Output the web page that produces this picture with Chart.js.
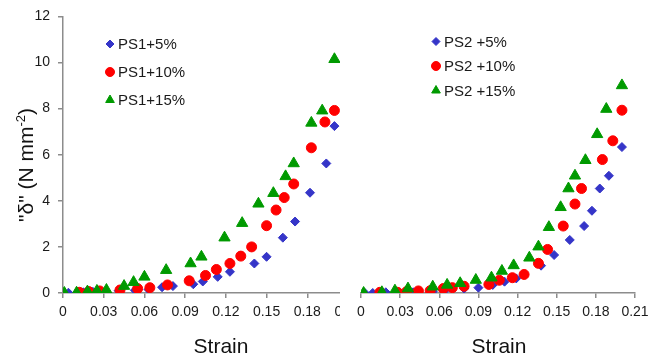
<!DOCTYPE html>
<html>
<head>
<meta charset="utf-8">
<script src="https://cdn.jsdelivr.net/npm/chart.js@4.4.0/dist/chart.umd.min.js"></script>
<style>
  body { margin: 0; background: #fff; font-family: "Liberation Sans", Arial, sans-serif; }
  #wrap { position: relative; width: 665px; height: 360px; overflow: hidden; background: #fff; }
  #leftBox { position: absolute; left: 0; top: 0; width: 340px; height: 360px; overflow: hidden; }
  #rightChart { position: absolute; left: 340px; top: 0; }
  .xtitle { position: absolute; top: 334px; width: 120px; text-align: center; font-size: 21px; color: #111; }
  #ytitle { position: absolute; left: 26px; top: 165px; transform: translate(-50%, -50%) rotate(-90deg); white-space: nowrap; font-size: 21px; color: #111; }
  #ytitle sup { font-size: 13px; vertical-align: 8px; line-height: 0; }
</style>
</head>
<body>
<div id="wrap">
  <div id="leftBox"><canvas id="leftChart" width="380" height="360"></canvas></div>
  <canvas id="rightChart" width="325" height="360"></canvas>
  <div id="ytitle">"δ" (N mm<sup>-2</sup>)</div>
  <div class="xtitle" style="left:161px">Strain</div>
  <div class="xtitle" style="left:439px">Strain</div>
</div>
<script>
// strain (x) and stress (y)
const ps1_5Strain = [0.004, 0.015, 0.022, 0.041, 0.053, 0.063, 0.073, 0.081, 0.096, 0.103, 0.114, 0.123, 0.141, 0.150, 0.162, 0.171, 0.182, 0.194, 0.200];
const ps1_5Stress = [0.01, 0.03, 0.05, 0.10, 0.12, 0.15, 0.25, 0.30, 0.38, 0.50, 0.70, 0.92, 1.28, 1.57, 2.40, 3.10, 4.35, 5.62, 7.24];

const ps1_10Strain = [0.012, 0.019, 0.027, 0.042, 0.055, 0.064, 0.077, 0.093, 0.105, 0.113, 0.123, 0.131, 0.139, 0.150, 0.157, 0.163, 0.170, 0.183, 0.193, 0.200];
const ps1_10Stress = [0.03, 0.06, 0.09, 0.13, 0.19, 0.23, 0.35, 0.53, 0.76, 1.02, 1.28, 1.60, 2.00, 2.92, 3.60, 4.14, 4.73, 6.30, 7.42, 7.92];

const ps1_15Strain = [0.001, 0.010, 0.018, 0.025, 0.032, 0.045, 0.052, 0.060, 0.076, 0.094, 0.102, 0.119, 0.132, 0.144, 0.155, 0.164, 0.170, 0.183, 0.191, 0.200];
const ps1_15Stress = [0.00, 0.01, 0.06, 0.09, 0.13, 0.30, 0.47, 0.70, 0.99, 1.28, 1.57, 2.40, 3.03, 3.87, 4.33, 5.06, 5.62, 7.38, 7.91, 10.14];

const ps2_5Strain = [0.003, 0.009, 0.019, 0.040, 0.055, 0.064, 0.079, 0.090, 0.101, 0.110, 0.119, 0.138, 0.148, 0.160, 0.171, 0.177, 0.183, 0.190, 0.200];
const ps2_5Stress = [0.00, 0.00, 0.03, 0.03, 0.07, 0.10, 0.19, 0.23, 0.35, 0.49, 0.63, 1.18, 1.64, 2.29, 2.89, 3.55, 4.51, 5.06, 6.30];

const ps2_10Strain = [0.0145, 0.028, 0.035, 0.044, 0.053, 0.063, 0.070, 0.079, 0.098, 0.106, 0.116, 0.125, 0.136, 0.143, 0.155, 0.164, 0.169, 0.185, 0.193, 0.200];
const ps2_10Stress = [0.03, 0.03, 0.06, 0.09, 0.10, 0.19, 0.23, 0.29, 0.37, 0.55, 0.66, 0.80, 1.28, 1.88, 2.89, 3.84, 4.51, 5.76, 6.57, 7.89];

const ps2_15Strain = [0.002, 0.016, 0.026, 0.036, 0.055, 0.066, 0.076, 0.088, 0.100, 0.108, 0.117, 0.129, 0.136, 0.144, 0.153, 0.159, 0.164, 0.172, 0.181, 0.188, 0.200];
const ps2_15Stress = [0.00, 0.03, 0.10, 0.19, 0.27, 0.35, 0.42, 0.56, 0.66, 0.95, 1.19, 1.52, 2.00, 2.84, 3.70, 4.51, 5.06, 5.73, 6.85, 7.94, 8.96];

const xTicks = [0, 0.03, 0.06, 0.09, 0.12, 0.15, 0.18, 0.21];
const yTicks = [0, 2, 4, 6, 8, 10, 12];

const BLUE = '#3535c8', RED = '#ff0000', GREEN = '#009a00', AXIS = '#8c8c8c', TEXT = '#1a1a1a';

function pts(xs, ys) {
  return xs.map((x, i) => ({ x: x, y: ys[i] }));
}

function series(label, xs, ys, style, color, radius, order) {
  return {
    label: label,
    data: pts(xs, ys),
    pointStyle: style,
    pointRadius: radius,
    pointBackgroundColor: color,
    pointBorderColor: color,
    pointBorderWidth: 1,
    showLine: false,
    order: order
  };
}

// small legend drawn inside the plot, like the original
const inlineLegend = {
  id: 'inlineLegend',
  afterDraw(chart, args, opts) {
    const ctx = chart.ctx;
    ctx.save();
    ctx.font = '15px "Liberation Sans", Arial, sans-serif';
    ctx.textBaseline = 'middle';
    chart.data.datasets.forEach((ds, i) => {
      const y = opts.y + i * opts.gap;
      ctx.fillStyle = ds.pointBackgroundColor;
      ctx.strokeStyle = ds.pointBorderColor;
      Chart.helpers.drawPoint(ctx, { pointStyle: ds.pointStyle, radius: opts.radius[i], rotation: 0, borderWidth: 1 }, opts.x, y);
      ctx.fillStyle = TEXT;
      ctx.fillText(ds.label, opts.x + 8, y + 1);
    });
    ctx.restore();
  }
};

function xScale(fitHeight) {
  return {
    type: 'linear',
    min: 0,
    max: 0.21,
    afterBuildTicks: s => { s.ticks = xTicks.map(v => ({ value: v })); },
    afterFit: s => { s.height = fitHeight; },
    grid: { display: true, drawOnChartArea: false, drawTicks: true, tickLength: 5, color: AXIS, lineWidth: 1.5 },
    border: { color: AXIS, width: 1.5 },
    ticks: {
      color: TEXT,
      font: { size: 14, family: '"Liberation Sans", Arial, sans-serif' },
      padding: 6,
      maxRotation: 0,
      autoSkip: false,
      callback: v => v === 0 ? '0' : v.toFixed(2)
    }
  };
}

Chart.defaults.animation = false;

new Chart(document.getElementById('leftChart'), {
  type: 'scatter',
  data: {
    datasets: [
      series('PS1+5%', ps1_5Strain, ps1_5Stress, 'rectRot', BLUE, 4.5, 3),
      series('PS1+10%', ps1_10Strain, ps1_10Stress, 'circle', RED, 5, 2),
      series('PS1+15%', ps1_15Strain, ps1_15Stress, 'triangle', GREEN, 6.5, 1)
    ]
  },
  options: {
    responsive: false,
    devicePixelRatio: 1,
    layout: { padding: { left: 0, right: 32, top: 15, bottom: 0 } },
    plugins: {
      legend: { display: false },
      tooltip: { enabled: false },
      inlineLegend: { x: 110, y: 44, gap: 28, radius: [4, 4.5, 5] }
    },
    scales: {
      x: xScale(67),
      y: {
        type: 'linear',
        min: 0,
        max: 12,
        afterBuildTicks: s => { s.ticks = yTicks.map(v => ({ value: v })); },
        afterFit: s => { s.width = 63; },
        grid: { display: true, drawOnChartArea: false, drawTicks: true, tickLength: 5, color: AXIS, lineWidth: 1.5 },
        border: { color: AXIS, width: 1.5 },
        ticks: { color: TEXT, font: { size: 14, family: '"Liberation Sans", Arial, sans-serif' }, padding: 8 }
      }
    }
  },
  plugins: [inlineLegend]
});

new Chart(document.getElementById('rightChart'), {
  type: 'scatter',
  data: {
    datasets: [
      series('PS2 +5%', ps2_5Strain, ps2_5Stress, 'rectRot', BLUE, 4.5, 3),
      series('PS2 +10%', ps2_10Strain, ps2_10Stress, 'circle', RED, 5, 2),
      series('PS2 +15%', ps2_15Strain, ps2_15Stress, 'triangle', GREEN, 6.5, 1)
    ]
  },
  options: {
    responsive: false,
    devicePixelRatio: 1,
    layout: { padding: { left: 21, right: 30, top: 15, bottom: 0 } },
    plugins: {
      legend: { display: false },
      tooltip: { enabled: false },
      inlineLegend: { x: 96, y: 41.5, gap: 24.5, radius: [4, 4.5, 5] }
    },
    scales: {
      x: xScale(67),
      y: { type: 'linear', display: false, min: 0, max: 12 }
    }
  },
  plugins: [inlineLegend]
});
</script>
</body>
</html>
